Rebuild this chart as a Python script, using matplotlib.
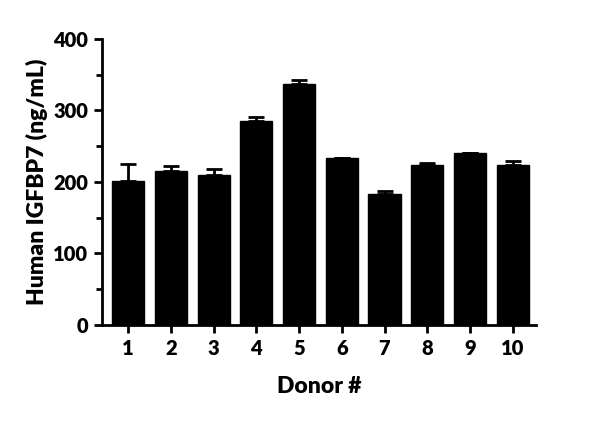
import matplotlib
matplotlib.use('Agg')
import matplotlib.pyplot as plt
from matplotlib.ticker import MultipleLocator

donors = ['1', '2', '3', '4', '5', '6', '7', '8', '9', '10']
means = [201, 215, 209, 285, 337, 233, 183, 224, 241, 223]
errors = [24, 7, 9, 6, 6, 1, 4, 3, 0, 6]

plt.rcParams['font.family'] = ['Lato', 'DejaVu Sans']
plt.rcParams['font.weight'] = 'heavy'

fig = plt.figure(figsize=(6, 4.22), dpi=100)
ax = fig.add_axes([0.17, 0.23, 0.723, 0.678])

x = list(range(1, len(donors) + 1))
ax.bar(x, means, width=0.75, color='black', edgecolor='black')
ax.errorbar(x, means, yerr=[[0] * len(errors), errors], fmt='none',
            ecolor='black', elinewidth=2, capsize=6, capthick=2)

ax.set_xlim(0.39, 10.54)
ax.set_ylim(0, 400)
ax.set_xticks(x)
ax.set_xticklabels(donors)
ax.yaxis.set_major_locator(MultipleLocator(100))
ax.yaxis.set_minor_locator(MultipleLocator(50))

for side in ['top', 'right']:
    ax.spines[side].set_visible(False)
for side in ['left', 'bottom']:
    ax.spines[side].set_linewidth(2)

ax.tick_params(axis='both', which='major', width=2, length=6, labelsize=14.5, pad=4)
ax.tick_params(axis='y', which='minor', width=2, length=4)

ax.set_xlabel('Donor #', fontsize=16.5, fontweight='heavy', labelpad=13)
ax.set_ylabel('Human IGFBP7 (ng/mL)', fontsize=16.5, fontweight='heavy', labelpad=4)

fig.savefig('out.png', dpi=100)
